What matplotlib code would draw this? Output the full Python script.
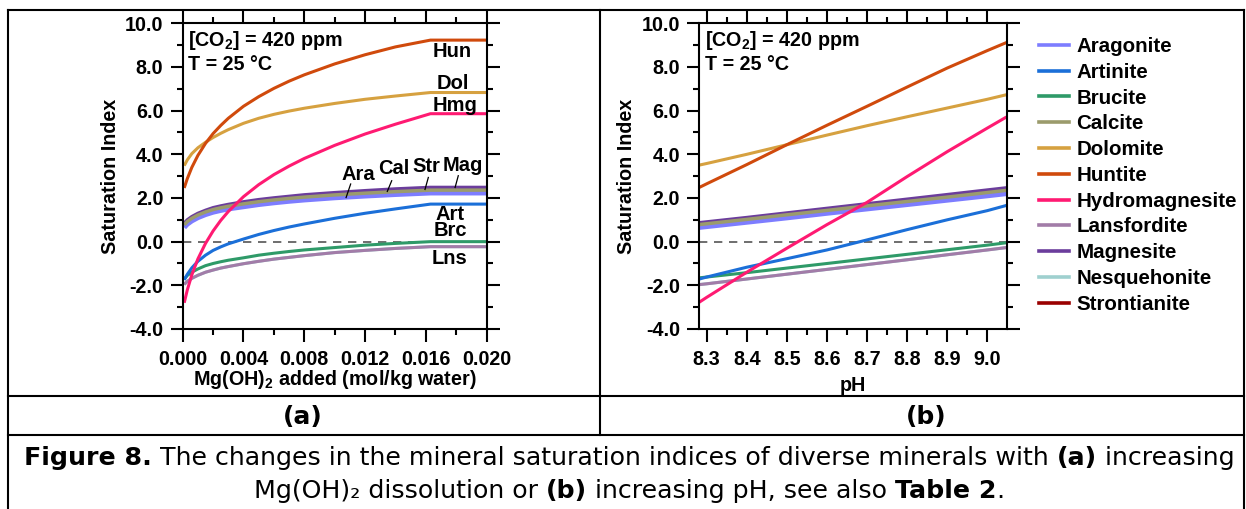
import matplotlib
matplotlib.use("Agg")
import matplotlib.pyplot as plt
from matplotlib.lines import Line2D
from matplotlib.ticker import MultipleLocator, FormatStrFormatter
import matplotlib.transforms as mtransforms

plt.rcParams['font.family'] = ['Liberation Sans', 'DejaVu Sans']
plt.rcParams['font.weight'] = 'bold'
plt.rcParams['axes.unicode_minus'] = False
plt.rcParams['mathtext.fontset'] = 'custom'
plt.rcParams['mathtext.rm'] = 'Liberation Sans:bold'
plt.rcParams['mathtext.bf'] = 'Liberation Sans:bold'
plt.rcParams['mathtext.it'] = 'Liberation Sans:bold'

# ---- data, panel (a): SI vs Mg(OH)2 added ----
mg_added = [0.0001, 0.0003, 0.0006, 0.001, 0.0015, 0.002, 0.0025, 0.003, 0.004,
            0.005, 0.006, 0.007, 0.008, 0.010, 0.012, 0.014, 0.0163, 0.020]
ara_a = [0.65, 0.80, 0.95, 1.10, 1.24, 1.35, 1.43, 1.50, 1.60, 1.70, 1.78, 1.85, 1.91, 2.01, 2.09, 2.16, 2.23, 2.23]
art_a = [-1.75, -1.50, -1.20, -0.90, -0.62, -0.40, -0.24, -0.10, 0.12, 0.33, 0.51, 0.67, 0.81, 1.07, 1.30, 1.50, 1.72, 1.72]
brc_a = [-1.72, -1.55, -1.40, -1.25, -1.10, -1.00, -0.92, -0.85, -0.74, -0.62, -0.53, -0.45, -0.38, -0.27, -0.16, -0.08, 0.00, 0.00]
cal_a = [0.77, 0.92, 1.07, 1.22, 1.36, 1.47, 1.55, 1.62, 1.73, 1.83, 1.91, 1.98, 2.04, 2.14, 2.22, 2.29, 2.36, 2.36]
dol_a = [3.48, 3.74, 4.03, 4.30, 4.55, 4.77, 4.96, 5.13, 5.42, 5.65, 5.83, 5.98, 6.11, 6.33, 6.52, 6.67, 6.83, 6.83]
hun_a = [2.46, 2.88, 3.40, 3.95, 4.50, 4.95, 5.32, 5.65, 6.20, 6.64, 7.02, 7.35, 7.64, 8.14, 8.56, 8.92, 9.23, 9.23]
hmg_a = [-2.80, -2.22, -1.52, -0.79, -0.08, 0.49, 0.97, 1.38, 2.06, 2.61, 3.07, 3.46, 3.81, 4.41, 4.93, 5.38, 5.86, 5.86]
lns_a = [-1.96, -1.82, -1.68, -1.54, -1.40, -1.30, -1.21, -1.14, -1.01, -0.90, -0.80, -0.72, -0.64, -0.50, -0.40, -0.31, -0.23, -0.23]
mag_a = [0.84, 0.99, 1.14, 1.29, 1.43, 1.55, 1.63, 1.70, 1.82, 1.92, 2.00, 2.07, 2.14, 2.24, 2.33, 2.41, 2.48, 2.48]
nes_a = lns_a
str_a = [0.76, 0.91, 1.06, 1.21, 1.35, 1.46, 1.54, 1.61, 1.72, 1.82, 1.90, 1.97, 2.03, 2.13, 2.21, 2.28, 2.35, 2.35]

# ---- data, panel (b): SI vs pH ----
ph = [8.28, 8.3, 8.4, 8.5, 8.6, 8.7, 8.8, 8.9, 9.0, 9.048]
ara_b = [0.65, 0.69, 0.89, 1.09, 1.30, 1.50, 1.70, 1.90, 2.10, 2.20]
art_b = [-1.72, -1.62, -1.17, -0.78, -0.38, 0.08, 0.55, 1.00, 1.42, 1.66]
brc_b = [-1.66, -1.62, -1.42, -1.21, -1.00, -0.79, -0.58, -0.37, -0.16, -0.05]
cal_b = [0.78, 0.82, 1.02, 1.23, 1.43, 1.64, 1.84, 2.04, 2.25, 2.35]
dol_b = [3.50, 3.58, 4.00, 4.44, 4.88, 5.31, 5.72, 6.12, 6.52, 6.73]
hun_b = [2.47, 2.65, 3.53, 4.44, 5.33, 6.20, 7.08, 7.95, 8.75, 9.12]
hmg_b = [-2.79, -2.55, -1.40, -0.30, 0.78, 1.80, 2.98, 4.12, 5.20, 5.71]
lns_b = [-1.97, -1.93, -1.71, -1.49, -1.27, -1.05, -0.83, -0.60, -0.38, -0.27]
mag_b = [0.86, 0.90, 1.10, 1.31, 1.52, 1.73, 1.94, 2.15, 2.36, 2.46]
nes_b = lns_b
str_b = cal_b

minerals = ['Aragonite', 'Artinite', 'Brucite', 'Calcite', 'Dolomite', 'Huntite',
            'Hydromagnesite', 'Lansfordite', 'Magnesite', 'Nesquehonite', 'Strontianite']
colors = {'Aragonite': '#7d7dff', 'Artinite': '#1b6fd8', 'Brucite': '#2e9a68',
          'Calcite': '#9b9b6c', 'Dolomite': '#d6a140', 'Huntite': '#d04a0c',
          'Hydromagnesite': '#ff1a72', 'Lansfordite': '#a27ca8', 'Magnesite': '#6b3d9c',
          'Nesquehonite': '#9fd0cf', 'Strontianite': '#9a0000'}
widths = {'Aragonite': 3.6, 'Calcite': 2.5, 'Magnesite': 2.6}
# drawing order (bottom first)
draw_order = ['Nesquehonite', 'Strontianite', 'Aragonite', 'Magnesite', 'Calcite',
              'Lansfordite', 'Brucite', 'Artinite', 'Dolomite', 'Huntite', 'Hydromagnesite']

series_a = {'Aragonite': ara_a, 'Artinite': art_a, 'Brucite': brc_a, 'Calcite': cal_a,
            'Dolomite': dol_a, 'Huntite': hun_a, 'Hydromagnesite': hmg_a, 'Lansfordite': lns_a,
            'Magnesite': mag_a, 'Nesquehonite': nes_a, 'Strontianite': str_a}
series_b = {'Aragonite': ara_b, 'Artinite': art_b, 'Brucite': brc_b, 'Calcite': cal_b,
            'Dolomite': dol_b, 'Huntite': hun_b, 'Hydromagnesite': hmg_b, 'Lansfordite': lns_b,
            'Magnesite': mag_b, 'Nesquehonite': nes_b, 'Strontianite': str_b}

# curve labels in panel (a): text, position, leader line (or None)
labels_a = [('Hun', 0.0177, 8.69, None), ('Dol', 0.0178, 7.24, None), ('Hmg', 0.0179, 6.24, None),
            ('Ara', 0.01155, 3.07, (0.01075, 2.02, 0.01105, 2.64)),
            ('Cal', 0.01386, 3.33, (0.01346, 2.30, 0.01375, 2.79)),
            ('Str', 0.01605, 3.45, (0.01594, 2.39, 0.01616, 2.94)),
            ('Mag', 0.01846, 3.48, (0.01792, 2.48, 0.01813, 3.02)),
            ('Art', 0.01759, 1.26, None), ('Brc', 0.0176, 0.49, None), ('Lns', 0.01752, -0.76, None)]

FS = 14.2
W, H = 1246, 509
fig = plt.figure(figsize=(W / 100, H / 100), dpi=100)
fig.patch.set_facecolor('white')

ax1 = fig.add_axes([182.7 / W, 1 - 329 / H, 304 / W, 305.7 / H])
ax2 = fig.add_axes([699.3 / W, 1 - 329 / H, 307.2 / W, 305.7 / H])


def style_axis(ax):
    for sp in ax.spines.values():
        sp.set_linewidth(1.5)
    ax.set_ylim(-4, 10)
    ax.yaxis.set_major_locator(MultipleLocator(2))
    ax.yaxis.set_minor_locator(MultipleLocator(1))
    ax.yaxis.set_major_formatter(FormatStrFormatter('%.1f'))
    ax.tick_params(which='both', direction='out', top=True, right=True, width=1.5)
    ax.tick_params(which='major', length=9, labelsize=FS, pad=5)
    ax.tick_params(which='minor', length=4.5)
    ax.tick_params(axis='x', which='major', pad=6)
    ax.axhline(0, color='#555555', lw=1.2, ls=(0, (5, 4)), zorder=1)
    ax.set_ylabel('Saturation Index', fontsize=FS, fontweight='bold')
    ax.yaxis.set_label_coords(-0.236, 0.5)
    ax.yaxis.label.set_va('center')
    ax.text(0.017, 0.943, '[CO$_2$] = 420 ppm', transform=ax.transAxes, fontsize=FS,
            fontweight='bold', va='center', ha='left')
    ax.text(0.017, 0.864, 'T = 25 \u00b0C', transform=ax.transAxes, fontsize=FS,
            fontweight='bold', va='center', ha='left')


# panel (a)
for name in draw_order:
    ax1.plot(mg_added, series_a[name], color=colors[name], lw=widths.get(name, 2.2),
             solid_capstyle='butt', zorder=2)
ax1.set_xlim(0, 0.020)
ax1.xaxis.set_major_locator(MultipleLocator(0.004))
ax1.xaxis.set_minor_locator(MultipleLocator(0.002))
ax1.xaxis.set_major_formatter(FormatStrFormatter('%.3f'))
style_axis(ax1)
ax1.set_xlabel('Mg(OH)$_2$ added (mol/kg water)', fontsize=FS, fontweight='bold')
ax1.xaxis.set_label_coords(0.5, -0.128)
for txt, lx, ly, leader in labels_a:
    ax1.text(lx, ly, txt, fontsize=14.5, fontweight='bold', ha='center', va='center', zorder=5)
    if leader is not None:
        ax1.plot([leader[0], leader[2]], [leader[1], leader[3]], color='black', lw=0.9, zorder=5)

# panel (b)
for name in draw_order:
    ax2.plot(ph, series_b[name], color=colors[name], lw=widths.get(name, 2.2),
             solid_capstyle='butt', zorder=2)
ax2.set_xlim(8.2815, 9.048)
ax2.xaxis.set_major_locator(MultipleLocator(0.1))
ax2.xaxis.set_minor_locator(MultipleLocator(0.05))
ax2.xaxis.set_major_formatter(FormatStrFormatter('%.1f'))
style_axis(ax2)
ax2.set_xlabel('pH', fontsize=FS, fontweight='bold')
ax2.xaxis.set_label_coords(0.5, -0.155)

handles = [Line2D([], [], color=colors[m], lw=2.6) for m in minerals]
ax2.legend(handles, minerals, loc='upper left', bbox_to_anchor=(1039 / W, 1 - 37 / H),
           bbox_transform=fig.transFigure, frameon=False,
           prop={'weight': 'bold', 'size': 14.8}, borderpad=0, borderaxespad=0,
           handlelength=1.45, handletextpad=0.38, labelspacing=0.33)


# table-like frame lines (pixel coords, y from top)
def hline(y, x0, x1):
    fig.add_artist(Line2D([x0 / W, x1 / W], [1 - y / H, 1 - y / H], color='black', lw=1.5))


def vline(x, y0, y1):
    fig.add_artist(Line2D([x / W, x / W], [1 - y0 / H, 1 - y1 / H], color='black', lw=1.5))


hline(10, 8, 1244)
hline(396, 8, 1244)
hline(435, 8, 1244)
vline(8, 10, 509)
vline(1243.5, 10, 509)
vline(600, 10, 435)

cap_font = ['DejaVu Sans']
fig.text(303 / W, 1 - 417 / H, '(a)', family=cap_font, fontsize=18, fontweight='bold',
         ha='center', va='center')
fig.text(926 / W, 1 - 417 / H, '(b)', family=cap_font, fontsize=18, fontweight='bold',
         ha='center', va='center')

caption_lines = [
    [('Figure 8.', 'bold'), (' The changes in the mineral saturation indices of diverse minerals with ', 'normal'),
     ('(a)', 'bold'), (' increasing', 'normal')],
    [('Mg(OH)\u2082 dissolution or ', 'normal'), ('(b)', 'bold'), (' increasing pH, see also ', 'normal'),
     ('Table 2', 'bold'), ('.', 'normal')],
]
caption_y = [458, 491]
renderer = fig.canvas.get_renderer()
pix = mtransforms.IdentityTransform()

# fit caption size so the first line spans the cell like the original
probe = [fig.text(0, 0, s, family=cap_font, fontsize=16, fontweight=w, transform=pix)
         for s, w in caption_lines[0]]
w16 = sum(p.get_window_extent(renderer).width for p in probe)
for p in probe:
    p.remove()
cap_size = 16 * 1216 / w16

for runs, yc in zip(caption_lines, caption_y):
    arts = []
    for s, w in runs:
        t = fig.text(0, H - yc, s, family=cap_font, fontsize=cap_size, fontweight=w,
                     ha='left', va='center', transform=pix)
        arts.append(t)
    ws = [a.get_window_extent(renderer).width for a in arts]
    x = 629 - sum(ws) / 2
    for a, wd in zip(arts, ws):
        a.set_x(x)
        x += wd

fig.savefig('out.png', dpi=100, facecolor='white')
